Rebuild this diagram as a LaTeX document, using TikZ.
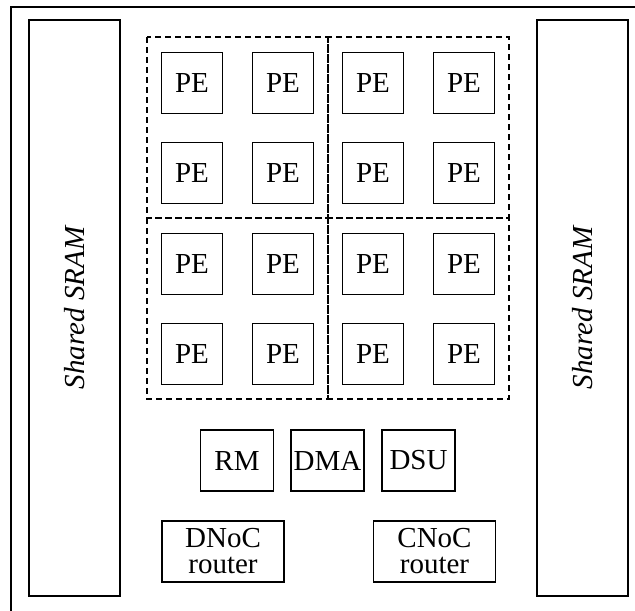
\documentclass[tikz,border=0pt]{standalone}
\usepackage{fontspec}
\setmainfont{Liberation Serif}
\tikzset{
  blockbox/.style={draw,line width=0.6pt,inner sep=1pt,align=center,
    font=\fontsize{14.5}{13}\selectfont},
  pebox/.style={blockbox,minimum width=30.5pt,minimum height=30.5pt},
  ctrlbox/.style={blockbox,minimum width=36.5pt,minimum height=30.5pt},
  nocbox/.style={blockbox,minimum width=61pt,minimum height=30.5pt},
  srambox/.style={blockbox,rotate=90,minimum width=288pt,minimum height=45.5pt,
    font=\fontsize{14.5}{13}\selectfont\itshape},
  quadline/.style={line width=0.6pt,dash pattern=on 3pt off 2pt}
}
\newcommand\pequad[3]{
  \draw[quadline] (#1,#2) rectangle ++(181,181); % dashed cluster
  \node[pebox] (#3a) at (#1+45,#2+46)   {PE};
  \node[pebox] (#3b) at (#1+136,#2+46)  {PE};
  \node[pebox] (#3c) at (#1+45,#2+136)  {PE};
  \node[pebox] (#3d) at (#1+136,#2+136) {PE};
}

\begin{document}
\begin{tikzpicture}[x=0.5pt,y=-0.5pt]
    \useasboundingbox (0,0) rectangle (635,610);
    \draw[line width=0.6pt] (11,7) rectangle (660,630);

    \node[srambox] (sramL) at (74.5,308) {Shared SRAM};
    \node[srambox] (sramR) at (582.5,308) {Shared SRAM};

    \pequad{147}{37}{peA}
    \pequad{328}{37}{peB}
    \pequad{147}{218}{peC}
    \pequad{328}{218}{peD}

    \node[ctrlbox] (rm)  at (237,460.5)   {RM};
    \node[ctrlbox] (dma) at (327.5,460.5) {DMA};
    \node[ctrlbox] (dsu) at (418.5,460.5) {DSU};

    \node[nocbox] (dnoc) at (223,551.5)   {DNoC\\router};
    \node[nocbox] (cnoc) at (434.5,551.5) {CNoC\\router};

\end{tikzpicture}
\end{document}
